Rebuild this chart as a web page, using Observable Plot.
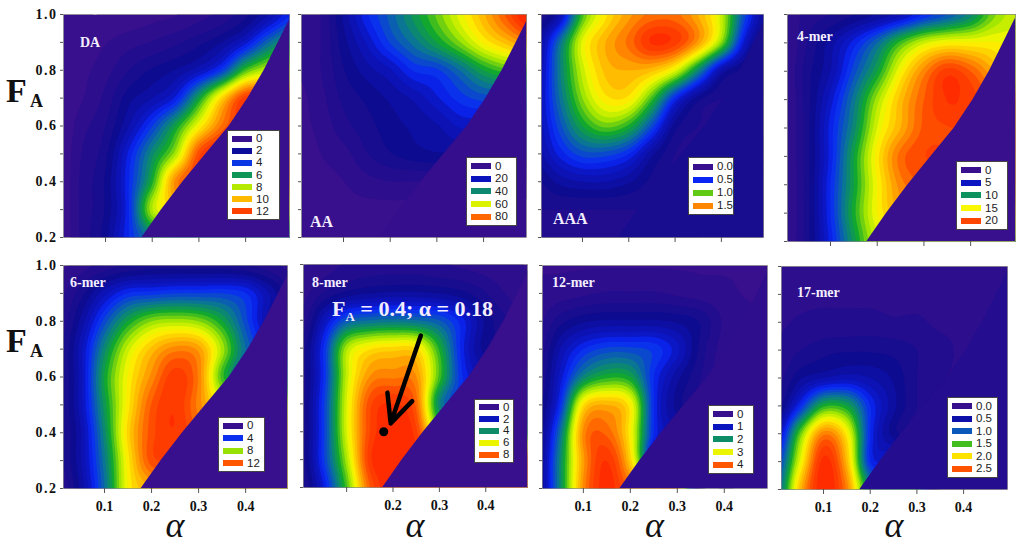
<!DOCTYPE html>
<html><head><meta charset="utf-8">
<script src="https://cdn.jsdelivr.net/npm/d3@7"></script>
<script src="https://cdn.jsdelivr.net/npm/@observablehq/plot@0.6"></script>
<style>
body{margin:0;background:#fff;}
#wrap{position:relative;width:1024px;height:548px;overflow:hidden;font-family:"Liberation Serif",serif;}
#wrap svg{position:absolute;}
.lg{position:absolute;background:#fff;border:1px solid #444;box-sizing:border-box;display:flex;flex-direction:column;justify-content:space-evenly;padding:1px 0 1px 4px;font-family:"Liberation Sans",Arial,sans-serif;font-size:11.5px;line-height:11px;color:#222;}
.lg .row{display:flex;align-items:center;height:11px;}
.lg .sw{width:20px;height:6px;margin-right:4px;flex:none;}
.nm{position:absolute;color:#f3eeff;font-weight:bold;font-family:"Liberation Serif",serif;line-height:1;white-space:nowrap;}
.ax{position:absolute;font-family:"Liberation Serif",serif;line-height:1;color:#111;white-space:nowrap;}
</style>
</head><body>
<div id="wrap"></div>
<script>
// ---------- data ----------
const alphaGrid = [0, 0.05, 0.1, 0.15, 0.2, 0.25, 0.3, 0.35, 0.4, 0.45, 0.5];
const faGrid = [1.0, 0.9, 0.8, 0.7, 0.6, 0.5, 0.4, 0.3, 0.2]; // rows, top to bottom

const valuesDA = [
  [0, 0, 0, 0.1, 0.3, 0.4, 0.7, 1.0, 1.6, 2.6, 3.9],
  [0, 0.1, 0.4, 0.7, 0.9, 1.2, 1.6, 2.2, 3.3, 5.2, 6.5],
  [0, 0.3, 0.7, 1.3, 1.8, 2.2, 2.9, 4.3, 7.2, 8.5, 9.1],
  [0, 0.4, 1.0, 2.0, 2.6, 3.6, 6.5, 9.8, 12.4, 12.4, 12.4],
  [0, 0.7, 1.3, 2.6, 4.3, 6.5, 9.1, 11.4, 12.6, 12.6, 12.6],
  [0, 0.9, 1.6, 3.6, 5.9, 8.1, 12.0, 13.0, 13.0, 13.0, 13.0],
  [0, 1.0, 1.8, 3.9, 6.8, 11.0, 12.0, 12.0, 12.0, 12.0, 12.0],
  [0, 1.0, 1.8, 3.9, 8.2, 9.5, 9.5, 9.5, 9.5, 9.5, 9.5],
  [0, 1.0, 2.0, 3.9, 5.5, 5.5, 5.5, 5.5, 5.5, 5.5, 5.5]
];
const valuesAA = [
  [4, 6, 16, 27, 35, 44, 53, 63, 73, 84, 95],
  [3, 6, 14, 22, 31, 38, 46, 55, 65, 72, 78],
  [3, 6, 12, 17, 21, 28, 30, 37, 46, 51, 51],
  [2, 5, 10, 13, 16, 19, 24, 29, 32, 32, 32],
  [2, 4, 8, 11, 14, 16, 18, 22, 22, 22, 22],
  [1, 3, 5, 9, 12, 14, 15, 15, 15, 15, 15],
  [1, 2, 3, 5, 6, 6, 6, 6, 6, 6, 6],
  [1, 1, 2, 2, 2, 2, 2, 2, 2, 2, 2],
  [1, 1, 1, 1, 1, 1, 1, 1, 1, 1, 1]
];
const valuesAAA = [
  [0.18, 0.36, 0.99, 1.30, 1.48, 1.58, 1.58, 1.44, 1.17, 0.63, 0.27],
  [0.27, 0.72, 1.22, 1.44, 1.58, 1.75, 1.71, 1.48, 1.08, 0.45, 0.18],
  [0.32, 0.76, 1.17, 1.40, 1.44, 1.40, 1.22, 0.81, 0.36, 0.22, 0.18],
  [0.36, 0.72, 1.08, 1.30, 1.30, 0.99, 0.54, 0.27, 0.18, 0.18, 0.18],
  [0.36, 0.63, 0.90, 1.04, 0.94, 0.63, 0.27, 0.18, 0.18, 0.18, 0.18],
  [0.32, 0.50, 0.63, 0.63, 0.54, 0.32, 0.18, 0.18, 0.18, 0.18, 0.18],
  [0.22, 0.32, 0.36, 0.36, 0.31, 0.22, 0.18, 0.18, 0.18, 0.18, 0.18],
  [0.18, 0.18, 0.18, 0.18, 0.18, 0.18, 0.18, 0.18, 0.18, 0.18, 0.18],
  [0.18, 0.18, 0.18, 0.18, 0.18, 0.18, 0.18, 0.18, 0.18, 0.18, 0.18]
];
const values4mer = [
  [0.6, 1.8, 2.2, 2.9, 3.7, 4.8, 6.6, 8.0, 9.9, 13.0, 14.5],
  [0.6, 2.2, 4.0, 6.2, 8.8, 12.1, 14.5, 15.5, 15.5, 15.5, 15.0],
  [0.6, 2.6, 4.4, 7.7, 11.0, 15.4, 18.7, 20.9, 19.8, 17.6, 15.4],
  [0.6, 2.6, 5.5, 9.2, 13.6, 17.2, 19.8, 21.3, 20.9, 19.8, 19.8],
  [0.6, 2.6, 6.2, 9.9, 14.7, 17.6, 20.0, 20.5, 20.5, 20.5, 20.5],
  [0.6, 2.6, 6.2, 11.0, 15.8, 19.4, 20.5, 20.5, 20.5, 20.5, 20.5],
  [0.6, 2.6, 6.6, 11.0, 15.4, 18.7, 19.8, 19.8, 19.8, 19.8, 19.8],
  [0.6, 2.6, 6.6, 11.4, 15.4, 17.6, 17.6, 17.6, 17.6, 17.6, 17.6],
  [0.6, 2.6, 6.2, 10.6, 14.3, 14.3, 14.3, 14.3, 14.3, 14.3, 14.3]
];
const values6mer = [
  [0.3, 0.7, 1.1, 1.4, 1.6, 1.6, 1.6, 1.6, 1.4, 1.1, 0.7],
  [0.7, 1.6, 3.0, 4.1, 4.3, 4.5, 4.5, 4.5, 4.1, 2.7, 1.4],
  [0.8, 2.4, 4.7, 6.8, 8.1, 8.4, 8.1, 6.8, 4.7, 2.7, 2.0],
  [1.1, 3.0, 6.1, 8.8, 10.5, 11.5, 11.1, 8.4, 5.4, 4.0, 4.0],
  [1.1, 3.0, 6.8, 9.5, 11.4, 12.9, 11.6, 7.4, 5.4, 5.4, 5.4],
  [1.1, 3.0, 6.5, 9.7, 12.2, 13.0, 11.5, 9.5, 9.5, 9.5, 9.5],
  [1.1, 2.7, 6.1, 10.1, 12.4, 13.0, 12.0, 11.0, 11.0, 11.0, 11.0],
  [1.1, 2.7, 5.7, 9.7, 12.4, 12.4, 12.0, 11.0, 11.0, 11.0, 11.0],
  [0.8, 2.4, 5.4, 9.5, 10.8, 10.8, 10.8, 10.8, 10.8, 10.8, 10.8]
];
const values8mer = [
  [0.27, 0.45, 0.63, 0.72, 0.72, 0.72, 0.63, 0.54, 0.45, 0.36, 0.27],
  [0.45, 0.9, 1.26, 1.44, 1.53, 1.53, 1.44, 1.26, 0.9, 0.54, 0.36],
  [0.54, 2.0, 3.3, 3.6, 3.7, 3.6, 3.3, 2.5, 1.4, 0.9, 0.54],
  [0.9, 2.7, 5.6, 6.5, 6.7, 6.6, 4.7, 2.5, 1.35, 1.35, 1.35],
  [0.9, 2.7, 5.8, 7.5, 7.7, 7.5, 5.0, 2.7, 2.0, 2.0, 2.0],
  [0.9, 2.9, 6.0, 8.3, 8.7, 8.0, 4.0, 3.0, 3.0, 3.0, 3.0],
  [0.9, 2.9, 6.0, 8.4, 8.9, 8.5, 5.5, 4.5, 4.5, 4.5, 4.5],
  [0.9, 2.9, 5.6, 8.6, 8.9, 8.9, 8.9, 8.9, 8.9, 8.9, 8.9],
  [0.72, 2.4, 5.0, 8.1, 9.0, 9.0, 9.0, 9.0, 9.0, 9.0, 9.0]
];
const values12mer = [
  [0.14, 0.14, 0.14, 0.14, 0.14, 0.14, 0.14, 0.14, 0.14, 0.14, 0.14],
  [0.18, 0.22, 0.27, 0.32, 0.32, 0.32, 0.27, 0.22, 0.18, 0.14, 0.14],
  [0.22, 0.54, 0.72, 0.78, 0.78, 0.78, 0.72, 0.58, 0.27, 0.18, 0.14],
  [0.27, 0.90, 1.35, 1.55, 1.55, 1.45, 1.10, 0.54, 0.22, 0.14, 0.14],
  [0.36, 1.10, 2.00, 2.35, 2.25, 1.35, 0.80, 0.45, 0.18, 0.14, 0.14],
  [0.45, 1.35, 3.30, 3.60, 3.20, 1.35, 0.68, 0.40, 0.18, 0.14, 0.14],
  [0.45, 1.80, 3.80, 4.00, 3.20, 1.35, 0.90, 0.40, 0.18, 0.14, 0.14],
  [0.50, 2.00, 3.70, 4.35, 3.40, 1.30, 1.30, 0.40, 0.18, 0.14, 0.14],
  [0.54, 2.00, 3.80, 4.45, 4.00, 4.00, 4.00, 0.40, 0.18, 0.14, 0.14]
];
const values17mer = [
  [0.17, 0.17, 0.17, 0.17, 0.17, 0.17, 0.17, 0.17, 0.17, 0.17, 0.17],
  [0.17, 0.17, 0.17, 0.17, 0.17, 0.17, 0.17, 0.17, 0.17, 0.17, 0.17],
  [0.17, 0.20, 0.22, 0.22, 0.22, 0.20, 0.20, 0.17, 0.17, 0.17, 0.17],
  [0.20, 0.28, 0.34, 0.36, 0.36, 0.34, 0.28, 0.22, 0.17, 0.17, 0.17],
  [0.22, 0.45, 0.56, 0.62, 0.56, 0.45, 0.28, 0.20, 0.17, 0.17, 0.17],
  [0.30, 0.84, 1.46, 1.40, 0.84, 0.50, 0.28, 0.20, 0.17, 0.17, 0.17],
  [0.56, 1.60, 2.40, 2.00, 0.84, 0.42, 0.28, 0.20, 0.17, 0.17, 0.17],
  [0.84, 1.90, 2.75, 2.20, 0.84, 0.84, 0.84, 0.20, 0.17, 0.17, 0.17],
  [1.00, 2.20, 2.80, 2.40, 1.30, 1.30, 1.30, 0.20, 0.17, 0.17, 0.17]
];

// boundary of the accessible region (right of it the value is zero)
const edgeFA = [0.2, 0.3, 0.4, 0.5, 0.6, 0.7, 0.8, 0.9, 1.0];
const edgeAlpha = [0.178, 0.22, 0.266, 0.315, 0.365, 0.405, 0.44, 0.47, 0.5];

const panelNames = ["DA", "AA", "AAA", "4-mer", "6-mer", "8-mer", "12-mer", "17-mer"];
const colorMax = [13, 92, 1.8, 22, 13.5, 9, 4.5, 2.8];
const outsideValue = [0, 1, 0.18, 0, 0, 0, 0.14, 0.17];

const legendDA = [0, 2, 4, 6, 8, 10, 12];
const legendAA = [0, 20, 40, 60, 80];
const legendAAA = [0.0, 0.5, 1.0, 1.5];
const legend4mer = [0, 5, 10, 15, 20];
const legend6mer = [0, 4, 8, 12];
const legend8mer = [0, 2, 4, 6, 8];
const legend12mer = [0, 1, 2, 3, 4];
const legend17mer = [0.0, 0.5, 1.0, 1.5, 2.0, 2.5];
const legendDecimals = [0, 0, 1, 0, 0, 0, 0, 1];

const xTicks = [0.1, 0.2, 0.3, 0.4];
const yTicks = [0.2, 0.3, 0.4, 0.5, 0.6, 0.7, 0.8, 0.9, 1.0];
const yTickLabels = [0.2, 0.4, 0.6, 0.8, 1.0];
const xTickLabelsBottom = [0.1, 0.2, 0.3, 0.4];
const xTickLabels8mer = [0.2, 0.3, 0.4];

// 8-mer annotation
const markerAlpha = [0.18];
const markerFA = [0.4];
const arrowAlpha = [0.26, 0.195]; // from, to
const arrowFA = [0.745, 0.43];

// ---------- styles / layout ----------
const nBands = 30;
const cmapStops = [0, 0.15, 0.25, 0.3, 0.42, 0.52, 0.62, 0.7, 0.8, 0.92, 1];
const cmapColors = ["#3d0f8c", "#0d0b90", "#0b16c4", "#0a26fa", "#0a7890", "#12aa2c", "#a8e800", "#fcf800", "#ffb000", "#ff4a00", "#ff2400"];
const cmapScale = d3.scaleLinear().domain(cmapStops).range(cmapColors).interpolate(d3.interpolateRgb).clamp(true);
const cmap = (t) => cmapScale(t);

// smooth (Catmull-Rom) spatial interpolation of the regular sample lattice, for Plot's contour
function latticeInterpolate(index, width, height, X, Y, V) {
  const key = (v) => Math.round(v * 1e4) / 1e4;
  const xs = [...new Set(Array.from(index, (i) => key(X[i])))].sort((a, b) => a - b);
  const ys = [...new Set(Array.from(index, (i) => key(Y[i])))].sort((a, b) => a - b);
  const nx = xs.length, ny = ys.length;
  const G = new Float64Array(nx * ny);
  for (const i of index) G[ys.indexOf(key(Y[i])) * nx + xs.indexOf(key(X[i]))] = V[i];
  const frac = (arr, p) => {
    const n = arr.length;
    if (p <= arr[0]) return 0;
    if (p >= arr[n - 1]) return n - 1;
    let k = 0;
    while (arr[k + 1] < p) k++;
    return k + (p - arr[k]) / (arr[k + 1] - arr[k]);
  };
  const cr = (p0, p1, p2, p3, t) =>
    0.5 * (2 * p1 + (-p0 + p2) * t + (2 * p0 - 5 * p1 + 4 * p2 - p3) * t * t + (-p0 + 3 * p1 - 3 * p2 + p3) * t * t * t);
  const g = (r, c) => G[Math.max(0, Math.min(ny - 1, r)) * nx + Math.max(0, Math.min(nx - 1, c))];
  const U = Array.from({length: width}, (_, x) => frac(xs, x + 0.5));
  const W = new Float64Array(width * height);
  for (let y = 0; y < height; ++y) {
    const v = frac(ys, y + 0.5), r = Math.min(Math.floor(v), ny - 2), tv = v - r;
    for (let x = 0; x < width; ++x) {
      const u = U[x], c = Math.min(Math.floor(u), nx - 2), tu = u - c;
      const rowVal = (rr) => cr(g(rr, c - 1), g(rr, c), g(rr, c + 1), g(rr, c + 2), tu);
      W[y * width + x] = cr(rowVal(r - 1), rowVal(r), rowVal(r + 1), rowVal(r + 2), tv);
    }
  }
  return W;
}

const frames = [
  {L: 63, T: 14, R: 289, B: 237, xd: [0.010, 0.494]},
  {L: 301, T: 14, R: 526, B: 237, xd: [0.010, 0.492]},
  {L: 541, T: 14, R: 763, B: 237, xd: [0.0115, 0.491]},
  {L: 787, T: 14, R: 1015, B: 241, xd: [0.008, 0.496]},
  {L: 63, T: 265, R: 287, B: 488, xd: [0.0128, 0.489]},
  {L: 303, T: 264, R: 527, B: 487, xd: [0.007, 0.49]},
  {L: 542, T: 265, R: 767, B: 488, xd: [0.013, 0.492]},
  {L: 781, T: 266, R: 1007, B: 489, xd: [0.01, 0.494]}
];
const legendBoxes = [
  {l: 227, t: 130, w: 53, h: 90},
  {l: 466, t: 157, w: 51, h: 69},
  {l: 688, t: 157, w: 46, h: 58},
  {l: 956, t: 161, w: 52, h: 69},
  {l: 218, t: 417, w: 47, h: 55},
  {l: 474, t: 399, w: 40, h: 64},
  {l: 708, t: 405, w: 46, h: 69},
  {l: 947, t: 397, w: 51, h: 81}
];
const nameBoxes = [
  {x: 80, y: 36, s: 14}, {x: 310, y: 214, s: 16}, {x: 553, y: 211, s: 16}, {x: 797, y: 30, s: 14},
  {x: 70, y: 276, s: 14}, {x: 312, y: 276, s: 14}, {x: 552, y: 276, s: 14}, {x: 797, y: 286, s: 14}
];

const wrap = document.getElementById("wrap");
const allValues = [valuesDA, valuesAA, valuesAAA, values4mer, values6mer, values8mer, values12mer, values17mer];
const allLegends = [legendDA, legendAA, legendAAA, legend4mer, legend6mer, legend8mer, legend12mer, legend17mer];

panelNames.forEach((name, i) => {
  const fr = frames[i];
  const row = i < 4 ? 0 : 1, col = i % 4;
  const mL = col === 0 ? 45 : 6, mR = 3, mT = 3, mB = row === 1 ? 32 : 10;
  const vals = allValues[i];
  const table = faGrid.flatMap((f, r) => alphaGrid.map((a, k) => ({a, f, v: vals[r][k]})));
  const edge = edgeFA.map((f, k) => ({f, a: edgeAlpha[k]}));
  const max = colorMax[i];
  const step = max / nBands;
  const xLab = row === 1 ? (i === 5 ? xTickLabels8mer : xTickLabelsBottom) : [];
  const yLab = col === 0 ? yTickLabels : [];
  const has = (arr, d) => arr.some((v) => Math.abs(v - d) < 1e-9);
  const marks = [
    Plot.contour(table, {x: "a", y: "f", fill: "v", interpolate: latticeInterpolate, pixelSize: 1, blur: 1, thresholds: d3.range(0, max, step)}),
    Plot.areaX(edge, {y: "f", x1: "a", x2: () => 0.6, fill: () => outsideValue[i], clip: true}),
    Plot.frame({stroke: "#8c8c8c", strokeWidth: 0.7}),
    Plot.axisX(xTicks, {tickSize: 5, tickPadding: 8, fontSize: 14, stroke: "#555", tickFormat: (d) => has(xLab, d) ? d.toFixed(1) : "", label: null}),
    Plot.axisY(yTicks, {tickSize: 3, tickPadding: 3, fontSize: 14, stroke: "#555", tickFormat: (d) => has(yLab, d) ? d.toFixed(1) : "", label: null})
  ];
  if (i === 5) {
    marks.push(Plot.arrow([{x1: arrowAlpha[0], y1: arrowFA[0], x2: arrowAlpha[1], y2: arrowFA[1]}],
      {x1: "x1", y1: "y1", x2: "x2", y2: "y2", stroke: "black", strokeWidth: 4.5, headLength: 22, headAngle: 50}));
    marks.push(Plot.dot(markerAlpha.map((a, k) => ({a, f: markerFA[k]})), {x: "a", y: "f", r: 4.5, fill: "black"}));
  }
  const plot = Plot.plot({
    width: fr.R - fr.L + mL + mR,
    height: fr.B - fr.T + mT + mB,
    marginLeft: mL, marginRight: mR, marginTop: mT, marginBottom: mB,
    x: {domain: fr.xd},
    y: {domain: [0.2, 1.0]},
    // each band is painted with the colour of its middle value
    color: {type: "linear", domain: [-step / 2, max - step / 2], interpolate: cmap, clamp: true},
    style: {fontFamily: "'Liberation Serif', serif", fontWeight: "bold", color: "#111", background: "none", overflow: "visible"},
    marks
  });
  plot.style.left = (fr.L - mL) + "px";
  plot.style.top = (fr.T - mT) + "px";
  d3.select(plot).selectAll('g[aria-label="y-axis tick label"] text').style("letter-spacing", "1.5px");
  wrap.appendChild(plot);

  const sc = plot.scale("color");
  const colorOf = sc && sc.apply ? (v) => sc.apply(v) : (v) => cmap((v + step / 2) / max);

  // legend
  const lb = legendBoxes[i];
  const lg = document.createElement("div");
  lg.className = "lg";
  Object.assign(lg.style, {left: lb.l + "px", top: lb.t + "px", width: lb.w + "px", height: lb.h + "px"});
  allLegends[i].forEach((v) => {
    const r = document.createElement("div");
    r.className = "row";
    const s = document.createElement("div");
    s.className = "sw";
    s.style.background = colorOf(v);
    const t = document.createElement("span");
    t.textContent = v.toFixed(legendDecimals[i]);
    r.appendChild(s); r.appendChild(t);
    lg.appendChild(r);
  });
  wrap.appendChild(lg);

  // panel name
  const nb = nameBoxes[i];
  const nm = document.createElement("div");
  nm.className = "nm";
  nm.textContent = name;
  Object.assign(nm.style, {left: nb.x + "px", top: nb.y + "px", fontSize: nb.s + "px"});
  wrap.appendChild(nm);

  // axis titles
  if (col === 0) {
    const F = document.createElement("div");
    F.className = "ax";
    F.textContent = "F";
    Object.assign(F.style, {left: "6px", top: (row === 0 ? 74 : 324) + "px", fontSize: "34px", fontWeight: "bold"});
    wrap.appendChild(F);
    const A = document.createElement("div");
    A.className = "ax";
    A.textContent = "A";
    Object.assign(A.style, {left: "30px", top: (row === 0 ? 92 : 342) + "px", fontSize: "18px", fontWeight: "bold"});
    wrap.appendChild(A);
  }
  if (row === 1) {
    const al = document.createElement("div");
    al.className = "ax";
    al.textContent = "α";
    Object.assign(al.style, {left: ((fr.L + fr.R) / 2 - 30) + "px", width: "60px", textAlign: "center", top: "507px", fontSize: "36px", fontStyle: "italic"});
    wrap.appendChild(al);
  }
});

// 8-mer annotation text
const ann = document.createElement("div");
ann.className = "nm";
ann.innerHTML = 'F<span style="font-size:13px;position:relative;top:5px">A</span> = 0.4; α = 0.18';
Object.assign(ann.style, {left: "332px", top: "298px", fontSize: "22px"});
wrap.appendChild(ann);
</script>
</body></html>
